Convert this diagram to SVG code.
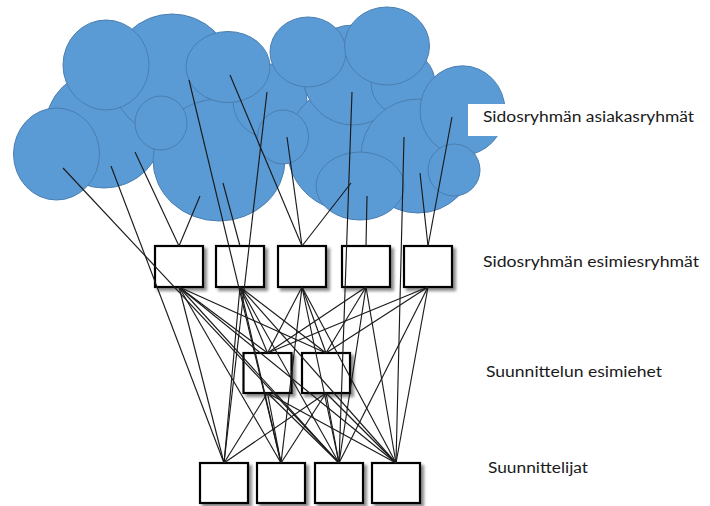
<svg xmlns="http://www.w3.org/2000/svg" width="710" height="506" viewBox="0 0 710 506">
  <style>
    .blob { fill: #5B9BD5; stroke: #4A7EB0; stroke-width: 1; }
    .box { fill: #ffffff; stroke: #000000; stroke-width: 2.2; filter: url(#shadow); }
    .link { stroke: #1a1a1a; stroke-width: 1.15; fill: none; }
    .label { font-family: Lato, "Liberation Sans", sans-serif; font-size: 15.5px; fill: #1a1a1a; }
  </style>
  <defs>
    <filter id="shadow" x="-20%" y="-20%" width="150%" height="150%">
      <feGaussianBlur in="SourceAlpha" stdDeviation="1.6"/>
      <feOffset dx="2.5" dy="2.5" result="off"/>
      <feComponentTransfer><feFuncA type="linear" slope="0.45"/></feComponentTransfer>
      <feMerge><feMergeNode/><feMergeNode in="SourceGraphic"/></feMerge>
    </filter>
  </defs>
  <rect width="710" height="506" fill="#ffffff"/>

  <!-- customer groups: overlapping cloud of circles -->
  <g id="cloud">
    <circle class="blob" cx="104" cy="129" r="59"/>
    <circle class="blob" cx="172" cy="75" r="61"/>
    <ellipse class="blob" cx="219" cy="160" rx="66" ry="61"/>
    <circle class="blob" cx="270" cy="101" r="37"/>
    <circle class="blob" cx="350" cy="148" r="63"/>
    <circle class="blob" cx="353" cy="75" r="50"/>
    <circle class="blob" cx="403" cy="83" r="32"/>
    <circle class="blob" cx="418" cy="156" r="57"/>
    <ellipse class="blob" cx="106" cy="65" rx="43" ry="45"/>
    <ellipse class="blob" cx="56.5" cy="154" rx="43" ry="46"/>
    <ellipse class="blob" cx="161" cy="123" rx="26" ry="27"/>
    <ellipse class="blob" cx="228" cy="67" rx="42" ry="35.5"/>
    <ellipse class="blob" cx="283" cy="137" rx="25.5" ry="27"/>
    <ellipse class="blob" cx="308" cy="52" rx="38" ry="35"/>
    <ellipse class="blob" cx="387" cy="46" rx="42.5" ry="39"/>
    <ellipse class="blob" cx="462.5" cy="110.5" rx="42.5" ry="44.7"/>
    <circle class="blob" cx="454" cy="170" r="26"/>
    <ellipse class="blob" cx="360" cy="186" rx="44" ry="34"/>
  </g>

  <!-- supervisor groups (row 1) -->
  <g id="esimiesryhma-1"><rect class="box" x="155" y="246" width="48" height="41"/></g>
  <g id="esimiesryhma-2"><rect class="box" x="216" y="246" width="48" height="41"/></g>
  <g id="esimiesryhma-3"><rect class="box" x="278" y="246" width="48" height="41"/></g>
  <g id="esimiesryhma-4"><rect class="box" x="342" y="246" width="48" height="41"/></g>
  <g id="esimiesryhma-5"><rect class="box" x="404" y="246" width="48" height="41"/></g>

  <!-- design supervisors (row 2) -->
  <g id="esimies-1"><rect class="box" x="243.5" y="353" width="48" height="40"/></g>
  <g id="esimies-2"><rect class="box" x="302" y="353" width="48" height="40"/></g>

  <!-- designers (row 3) -->
  <g id="suunnittelija-1"><rect class="box" x="200" y="463" width="48" height="40"/></g>
  <g id="suunnittelija-2"><rect class="box" x="257" y="463" width="48" height="40"/></g>
  <g id="suunnittelija-3"><rect class="box" x="315" y="463" width="48" height="40"/></g>
  <g id="suunnittelija-4"><rect class="box" x="372" y="463" width="48" height="40"/></g>

  <g id="connectors" class="link">
    <!-- from the cloud -->
    <line x1="63" y1="168" x2="339" y2="463"/>
    <line x1="111" y1="166" x2="224" y2="463"/>
    <line x1="135" y1="152" x2="179" y2="246"/>
    <line x1="200" y1="196" x2="179" y2="246"/>
    <line x1="189" y1="80" x2="281" y2="463"/>
    <line x1="223" y1="183" x2="240" y2="246"/>
    <line x1="230" y1="75" x2="302" y2="246"/>
    <line x1="287" y1="137" x2="302" y2="246"/>
    <line x1="267" y1="92" x2="224" y2="463"/>
    <line x1="352" y1="92" x2="339" y2="463"/>
    <line x1="367" y1="196" x2="366" y2="246"/>
    <line x1="351" y1="183" x2="302" y2="246"/>
    <line x1="404" y1="137" x2="396" y2="463"/>
    <line x1="420" y1="173" x2="428" y2="246"/>
    <line x1="452" y1="117" x2="428" y2="246"/>
    <!-- row 1 to row 2 -->
    <line x1="179" y1="287" x2="267.5" y2="353"/>
    <line x1="179" y1="287" x2="326" y2="353"/>
    <line x1="240" y1="287" x2="267.5" y2="353"/>
    <line x1="240" y1="287" x2="326" y2="353"/>
    <line x1="302" y1="287" x2="267.5" y2="353"/>
    <line x1="302" y1="287" x2="326" y2="353"/>
    <line x1="366" y1="287" x2="267.5" y2="353"/>
    <line x1="366" y1="287" x2="326" y2="353"/>
    <line x1="428" y1="287" x2="267.5" y2="353"/>
    <line x1="428" y1="287" x2="326" y2="353"/>
    <!-- row 1 to row 3 -->
    <line x1="179" y1="287" x2="224" y2="463"/>
    <line x1="179" y1="287" x2="281" y2="463"/>
    <line x1="179" y1="287" x2="339" y2="463"/>
    <line x1="179" y1="287" x2="396" y2="463"/>
    <line x1="240" y1="287" x2="224" y2="463"/>
    <line x1="240" y1="287" x2="281" y2="463"/>
    <line x1="240" y1="287" x2="339" y2="463"/>
    <line x1="240" y1="287" x2="396" y2="463"/>
    <line x1="302" y1="287" x2="281" y2="463"/>
    <line x1="302" y1="287" x2="339" y2="463"/>
    <line x1="302" y1="287" x2="396" y2="463"/>
    <line x1="366" y1="287" x2="339" y2="463"/>
    <line x1="366" y1="287" x2="396" y2="463"/>
    <line x1="428" y1="287" x2="339" y2="463"/>
    <line x1="428" y1="287" x2="396" y2="463"/>
    <!-- row 2 to row 3 -->
    <line x1="267.5" y1="393" x2="224" y2="463"/>
    <line x1="267.5" y1="393" x2="281" y2="463"/>
    <line x1="267.5" y1="393" x2="339" y2="463"/>
    <line x1="267.5" y1="393" x2="396" y2="463"/>
    <line x1="326" y1="393" x2="224" y2="463"/>
    <line x1="326" y1="393" x2="281" y2="463"/>
    <line x1="326" y1="393" x2="339" y2="463"/>
    <line x1="326" y1="393" x2="396" y2="463"/>
  </g>

  <!-- row labels -->
  <g id="labels">
    <rect x="468" y="104" width="236" height="32" fill="#ffffff"/>
    <text class="label" x="483" y="122" textLength="211" lengthAdjust="spacingAndGlyphs">Sidosryhmän asiakasryhmät</text>
    <text class="label" x="483" y="267" textLength="216" lengthAdjust="spacingAndGlyphs">Sidosryhmän esimiesryhmät</text>
    <text class="label" x="486" y="377" textLength="176" lengthAdjust="spacingAndGlyphs">Suunnittelun esimiehet</text>
    <text class="label" x="488" y="473" textLength="100" lengthAdjust="spacingAndGlyphs">Suunnittelijat</text>
  </g>
</svg>
